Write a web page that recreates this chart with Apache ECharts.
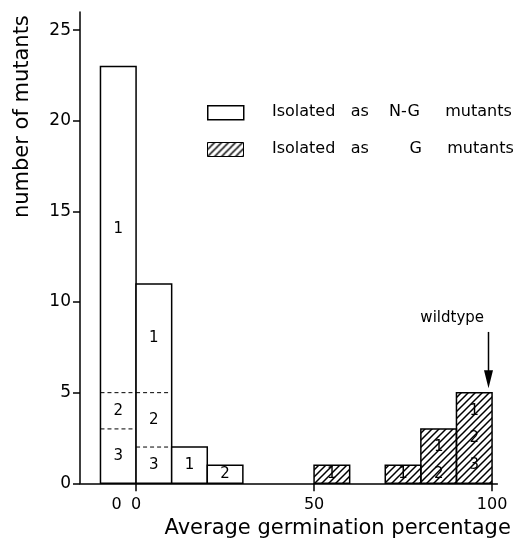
<!DOCTYPE html>
<html><head><meta charset="utf-8">
<script src="https://cdn.jsdelivr.net/npm/echarts@6/dist/echarts.min.js"></script>
<style>html,body{margin:0;padding:0;background:#fff}#c{width:516px;height:541px}</style>
</head><body><div id="c"></div>
<script>
// ---- data ----
const binWidth = 10;
// mutants isolated as N-G (open bars); first bin (-10..0) is the "0 %" class
const openBinStart = [-10, 0, 10, 20];
const openCode3 = [3, 2, 0, 0];
const openCode2 = [2, 3, 0, 1];
const openCode1 = [18, 6, 2, 0];
// mutants isolated as G (hatched bars)
const gBinStart = [50, 70, 80, 90];
const gCode3 = [0, 0, 0, 2];
const gCode2 = [0, 0, 1, 1];
const gCode1 = [1, 1, 2, 2];
// axes
const xTickValues = [0, 50, 100];
const xLabelValues = [-5.5, 0, 50, 100];
const xLabelTexts = ['0', '0', '50', '100'];
const yTickValues = [0, 5, 10, 15, 20, 25];
const legendNames = ['Isolated   as    N-G     mutants', 'Isolated   as        G     mutants'];

// ---- hatch pattern ----
function makeHatch() {
  const s = 7;
  const c = document.createElement('canvas');
  c.width = s; c.height = s;
  const g = c.getContext('2d');
  g.strokeStyle = '#000'; g.lineWidth = 1.5; g.lineCap = 'square';
  g.beginPath();
  g.moveTo(0, s); g.lineTo(s, 0);
  g.moveTo(-1, 1); g.lineTo(1, -1);
  g.moveTo(s - 1, s + 1); g.lineTo(s + 1, s - 1);
  g.stroke();
  return c;
}
const hatchFill = { image: makeHatch(), repeat: 'repeat' };

const openData = openBinStart.map((s, i) => [s, binWidth, openCode3[i], openCode2[i], openCode1[i], 0]);
const gData = gBinStart.map((s, i) => [s, binWidth, gCode3[i], gCode2[i], gCode1[i], 1]);

function renderBar(params, api) {
  const start = api.value(0), w = api.value(1);
  const segs = [api.value(2), api.value(3), api.value(4)];
  const codes = ['3', '2', '1'];
  const hatched = api.value(5) === 1;
  const total = segs[0] + segs[1] + segs[2];
  const p0 = api.coord([start, 0]), p1 = api.coord([start + w, total]);
  const children = [{
    type: 'rect',
    shape: { x: p0[0], y: p1[1], width: p1[0] - p0[0], height: p0[1] - p1[1] },
    style: { fill: hatched ? hatchFill : '#fff', stroke: '#000', lineWidth: 1.5 }
  }];
  let base = 0;
  segs.forEach((n, i) => {
    if (!n) return;
    if (base > 0 && !hatched) {
      const a = api.coord([start, base]), b = api.coord([start + w, base]);
      children.push({ type: 'line', shape: { x1: a[0], y1: a[1], x2: b[0], y2: b[1] },
        style: { stroke: '#000', lineWidth: 1, lineDash: [4, 3] } });
    }
    const c = api.coord([start + w / 2, base + n / 2]);
    children.push({ type: 'text', x: c[0], y: c[1],
      style: { text: codes[i], fill: '#000', fontSize: 15, fontFamily: 'DejaVu Sans',
        align: 'center', verticalAlign: 'middle' } });
    base += n;
  });
  return { type: 'group', children };
}

function renderArrow(params, api) {
  const top = api.coord([api.value(0), api.value(1)]);
  const tip = api.coord([api.value(0), api.value(2)]);
  const lab = api.coord([api.value(3), api.value(4)]);
  return { type: 'group', children: [
    { type: 'line', shape: { x1: top[0], y1: top[1], x2: tip[0], y2: tip[1] - 10 },
      style: { stroke: '#000', lineWidth: 1.5 } },
    { type: 'polygon', shape: { points: [[tip[0] - 4.5, tip[1] - 18], [tip[0] + 4.5, tip[1] - 18], [tip[0], tip[1]]] },
      style: { fill: '#000' } },
    { type: 'text', x: lab[0], y: lab[1],
      style: { text: 'wildtype', fill: '#000', fontSize: 15, fontFamily: 'DejaVu Sans',
        align: 'center', verticalAlign: 'middle' } }
  ] };
}

const chart = echarts.init(document.getElementById('c'));
chart.setOption({
  animation: false,
  backgroundColor: '#fff',
  grid: { left: 80, right: 18.6, top: 12, bottom: 57.7, containLabel: false, outerBoundsMode: 'none' },
  xAxis: {
    type: 'value', min: -15.75, max: 101.5,
    name: 'Average germination percentage', nameLocation: 'middle', nameGap: 33,
    nameTextStyle: { color: '#000', fontSize: 21, fontFamily: 'DejaVu Sans', padding: [0, 0, 0, 98] },
    axisLine: { onZero: false, lineStyle: { color: '#000', width: 1.5 } },
    axisTick: { show: true, customValues: xTickValues, length: 8, lineStyle: { color: '#000', width: 1.5 } },
    axisLabel: { customValues: xLabelValues, color: '#000', fontSize: 16, fontFamily: 'DejaVu Sans', margin: 14,
      formatter: v => xLabelTexts[xLabelValues.indexOf(v)] },
    splitLine: { show: false }
  },
  yAxis: {
    type: 'value', min: 0, max: 26,
    name: 'number of mutants', nameLocation: 'middle', nameGap: 47,
    nameTextStyle: { color: '#000', fontSize: 21, fontFamily: 'DejaVu Sans', padding: [0, 0, 0, 262] },
    axisLine: { show: true, onZero: false, lineStyle: { color: '#000', width: 1.5 } },
    axisTick: { show: true, customValues: yTickValues, length: 7, lineStyle: { color: '#000', width: 1.5 } },
    axisLabel: { customValues: yTickValues, color: '#000', fontSize: 17, fontFamily: 'DejaVu Sans', margin: 9 },
    splitLine: { show: false }
  },
  graphic: [
    { type: 'rect', left: 207, top: 105, shape: { width: 36, height: 14 },
      style: { fill: '#fff', stroke: '#000', lineWidth: 1.5 } },
    { type: 'rect', left: 207, top: 142, shape: { width: 36, height: 14 },
      style: { fill: hatchFill, stroke: '#000', lineWidth: 1 } },
    { type: 'text', left: 272, top: 104, style: { text: legendNames[0], fill: '#000', fontSize: 16, fontFamily: 'DejaVu Sans' } },
    { type: 'text', left: 272, top: 141, style: { text: legendNames[1], fill: '#000', fontSize: 16, fontFamily: 'DejaVu Sans' } }
  ],
  series: [
    { type: 'custom', name: 'Isolated as N-G mutants', renderItem: renderBar, data: openData, clip: false,
      encode: { x: 0, y: 4 } },
    { type: 'custom', name: 'Isolated as G mutants', renderItem: renderBar, data: gData, clip: false,
      encode: { x: 0, y: 4 } },
    { type: 'custom', name: 'wildtype', renderItem: renderArrow, data: [[99, 8.35, 5.25, 88.8, 9.1]], clip: false,
      encode: { x: 0, y: 1 } }
  ]
});
</script></body></html>
